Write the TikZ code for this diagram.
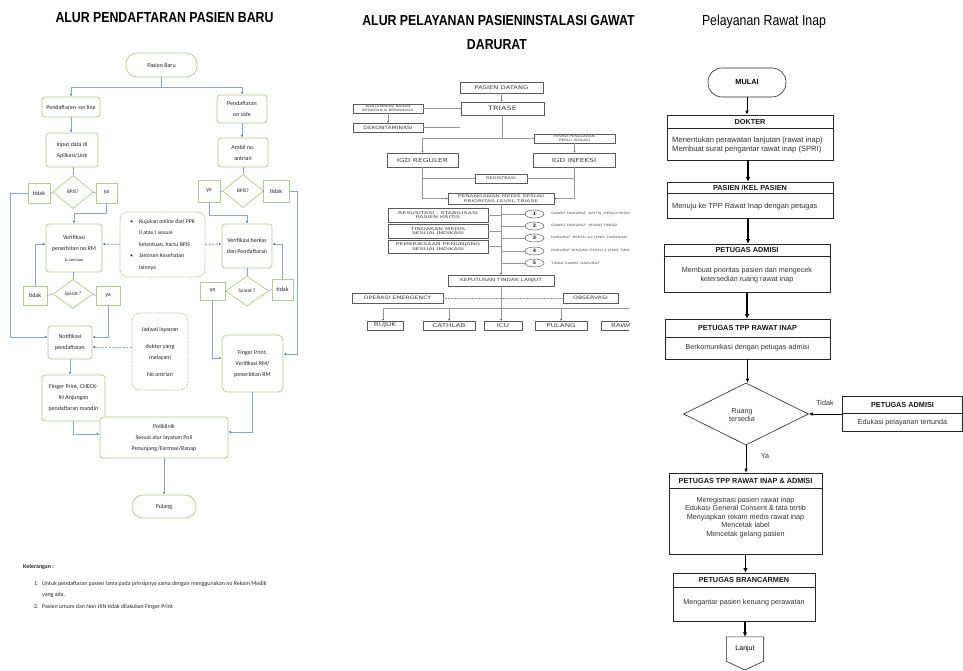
\documentclass[tikz,border=0pt]{standalone}
\usepackage{fontspec}
\setmainfont{Liberation Sans}
\newfontfamily\lfont{Carlito}
\newfontfamily\mfont[FakeStretch=1.35]{DejaVu Sans}
\newfontfamily\mfontw[FakeStretch=1.65]{DejaVu Sans}
\newfontfamily\ttlfont[FakeStretch=0.85]{Liberation Sans}
\usetikzlibrary{shapes.geometric,arrows.meta,calc}
\definecolor{lgreen}{RGB}{175,205,140}
\definecolor{lline}{RGB}{140,165,205}
\definecolor{lhead}{RGB}{70,110,190}
\definecolor{mline}{RGB}{150,150,150}
\definecolor{mbox}{RGB}{90,90,90}
\tikzset{
 lb/.style={draw=lgreen, line width=0.7pt, rounded corners=3pt, fill=white, align=center, inner sep=0.5pt, text=black!85, font=\lfont\fontsize{6}{11}\selectfont},
 lsq/.style={lb, rounded corners=0pt},
 lpill/.style={lb, rounded corners=11pt},
 ldash/.style={lb, dashed, dash pattern=on 1.5pt off 1pt, rounded corners=8pt},
 ldia/.style={draw=lgreen, line width=0.7pt, diamond, fill=white, inner sep=0pt, text=black!85, font=\lfont\fontsize{5.3}{6}\selectfont},
 ll/.style={draw=lline, line width=0.6pt},
 la/.style={ll, -{Latex[length=2.5pt,width=2pt,color=lhead]}},
 lda/.style={la, dashed, dash pattern=on 2pt off 1.5pt},
 mb/.style={draw=mbox, line width=0.45pt, fill=white, align=center, inner sep=0pt, text=black!75, font=\mfontw\fontsize{3.8}{4.7}\selectfont},
 ml/.style={draw=mline, line width=0.5pt},
 ma/.style={ml, -{Stealth[length=2pt,width=1.8pt,color=black!70]}},
 rb/.style={draw=black!85, line width=0.6pt, fill=white, inner sep=0pt},
 rl/.style={draw=black!85, line width=0.6pt},
 rh/.style={font=\bfseries\fontsize{7.3}{8.5}\selectfont, inner sep=0pt, text=black!90},
 rt/.style={font=\fontsize{7.2}{8.5}\selectfont, inner sep=0pt, align=center, text=black!80},
 ra/.style={draw=black, line width=0.6pt, -{Latex[length=4pt,width=3.5pt]}},
 rA/.style={draw=black, line width=1.4pt, -{Latex[length=4.5pt,width=4.5pt]}},
}
\begin{document}
\begin{tikzpicture}[x=1pt,y=-1pt]
\fill[white] (0,0) rectangle (963,671);
\useasboundingbox (0,0) rectangle (963,671);

% ================= titles
\node[font=\ttlfont\bfseries\fontsize{14.5}{16}\selectfont, inner sep=0] (ttl1) at (164.5,18) {ALUR PENDAFTARAN PASIEN BARU};
\node[font=\ttlfont\bfseries\fontsize{14.5}{16}\selectfont, inner sep=0] (ttl2) at (498.5,21) {ALUR PELAYANAN PASIENINSTALASI GAWAT};
\node[font=\ttlfont\bfseries\fontsize{14.5}{16}\selectfont, inner sep=0] (ttl2b) at (497,45) {DARURAT};
\node[font=\ttlfont\fontsize{14.5}{16}\selectfont, inner sep=0] (ttl3) at (764,22) {Pelayanan Rawat Inap};

% ================= left panel
\node[lpill, minimum width=71pt, minimum height=24pt] (pb) at (161.5,65) {Pasien Baru};
\node[lb, minimum width=58pt, minimum height=20pt] (pon) at (71,107) {Pendaftaran -on line};
\node[lb, minimum width=50pt, minimum height=28pt] (pos) at (242,109) {Pendaftaran\\on side};
\node[lb, minimum width=52pt, minimum height=34pt] (inp) at (72,150) {Input data di\\Aplikasi/Link};
\node[lb, minimum width=50pt, minimum height=29pt] (amb) at (243,152.5) {Ambil no.\\antrian};
\node[ldia, minimum width=40pt, minimum height=33pt] (d1) at (73,192) {BPJS?};
\node[lsq, minimum width=22pt, minimum height=20pt] (t1) at (39,193) {tidak};
\node[lsq, minimum width=21pt, minimum height=20pt] (y1) at (106.5,193) {ya};
\node[ldia, minimum width=41pt, minimum height=33pt] (d2) at (243,191) {BPJS?};
\node[lsq, minimum width=22pt, minimum height=22pt] (y2) at (209,191) {ya};
\node[lsq, minimum width=26pt, minimum height=22pt] (t2) at (276,191) {tidak};
\node[lb, minimum width=56pt, minimum height=48pt] (ver1) at (74,248) {Verifikasi\\penerbitan no RM\\{\fontsize{4.3}{5}\selectfont\& Jaminan}};
\node[ldash, minimum width=85pt, minimum height=65pt, align=left, font=\lfont\fontsize{5.8}{11.5}\selectfont] (bul) at (162.5,244.5)
 {\makebox[9pt][l]{\textbullet}Rujukan online dari PPK\\\makebox[9pt]{}II atau I sesuai\\\makebox[9pt]{}ketentuan, Kartu BPJS\\\makebox[9pt][l]{\textbullet}Jaminan Kesehatan\\\makebox[9pt]{}lainnya};
\node[lb, minimum width=50pt, minimum height=44pt] (ver2) at (247,246) {Verifikasi berkas\\dan Pendaftaran};
\node[ldia, minimum width=40pt, minimum height=29pt] (d3) at (73,294) {Syarat ?};
\node[lsq, minimum width=24pt, minimum height=19pt] (t3) at (35,295.5) {tidak};
\node[lsq, minimum width=24pt, minimum height=19pt] (y3) at (108,295.5) {ya};
\node[ldia, minimum width=43pt, minimum height=30pt] (d4) at (247,291) {Syarat ?};
\node[lsq, minimum width=25pt, minimum height=18pt] (y4) at (212.5,291) {ya};
\node[lsq, minimum width=21pt, minimum height=21pt] (t4) at (282.5,289.5) {tidak};
\node[lb, minimum width=44pt, minimum height=33pt] (notif) at (70,342.5) {Notifikasi\\pendaftaran};
\node[ldash, minimum width=56pt, minimum height=77pt, font=\lfont\fontsize{6}{11}\selectfont] (jad) at (160,351.5) {Jadwal layanan\\[6pt]dokter yang\\melayani\\[6pt]No antrian};
\node[lb, minimum width=61pt, minimum height=57pt, rounded corners=5pt] (fp2) at (252.5,363.5) {Finger Print,\\Verifikasi RM/\\penerbitan RM};
\node[lb, minimum width=63pt, minimum height=46pt] (fp1) at (73.5,398) {Finger Print, CHECK-\\IN Anjungan\\pendaftaran mandiri};
\node[lb, minimum width=128pt, minimum height=41pt] (poli) at (164,437.5) {Poliklinik\\Sesuai alur layanan Poli\\Penunjang/Farmasi/Ranap};
\node[lpill, minimum width=64pt, minimum height=23pt] (pul) at (164,506.5) {Pulang};

\node[anchor=base west, inner sep=0, text=black!85, font=\lfont\bfseries\fontsize{5.9}{7}\selectfont] (ket) at (23,568) {Keterangan :};
\node[anchor=base west, inner sep=0, text=black!85, font=\lfont\fontsize{5.9}{7}\selectfont] (n1) at (34,585) {1.};
\node[anchor=base west, inner sep=0, text=black!85, font=\lfont\fontsize{5.9}{7}\selectfont] (n1t) at (42,585) {Untuk pendaftaran pasien lama pada prinsipnya sama dengan menggunakan no Rekam Medik};
\node[anchor=base west, inner sep=0, text=black!85, font=\lfont\fontsize{5.9}{7}\selectfont] (n1u) at (42,596) {yang ada.};
\node[anchor=base west, inner sep=0, text=black!85, font=\lfont\fontsize{5.9}{7}\selectfont] (n2) at (34,608) {2.};
\node[anchor=base west, inner sep=0, text=black!85, font=\lfont\fontsize{5.9}{7}\selectfont] (n2t) at (42,608) {Pasien umum dan Non JKN tidak dilakukan Finger Print};

\coordinate (j0) at (161.5,87);
\draw[ll] (pb.south) -- (j0);
\draw[la] (j0) -| (pon.north);
\draw[la] (j0) -| (pos.north);
\draw[la] (pon.south) -- (pon.south |- inp.north);
\draw[la] (pos.south) -- (pos.south |- amb.north);
\draw[ll] (d1.north |- inp.south) -- (d1.north);
\draw[ll] (amb.south) -- (d2.north);
\draw[ll] (d1.west) -- (t1.east);
\draw[ll] (d1.east) -- (y1.west);
\draw[ll] (d2.west) -- (y2.east);
\draw[ll] (d2.east) -- (t2.west);
\draw[la] (t1.west) -- (10,193) -- (10,337) -- (notif.west |- 0,337);
\draw[la] (y1.south) -- (106.5,213) -| (ver1.north);
\draw[la] (y2.south) -- (209,215) -| (ver2.north);
\draw[lda] (bul.west |- 0,244) -- (ver1.east |- 0,244);
\draw[lda] (bul.east |- 0,244) -- (ver2.west |- 0,244);
\draw[ll] (d3.north |- ver1.south) -- (d3.north);
\draw[ll] (ver2.south) -- (d4.north);
\draw[ll] (d3.west) -- (t3.east);
\draw[ll] (d3.east) -- (y3.west);
\draw[ll] (d4.west) -- (y4.east);
\draw[ll] (d4.east) -- (t4.west);
\draw[la] (t3.north) |- (ver1.west |- 0,244);
\draw[la] (t4.north) |- (ver2.east |- 0,244);
\draw[la] (y3.south) |- (notif.east |- 0,337);
\draw[lda] (jad.west |- 0,347) -- (notif.east |- 0,347);
\draw[la] (t2.east) -- (297,191) -- (297,354) -- (fp2.east |- 0,354);
\draw[la] (y4.south) |- (fp2.west |- 0,358);
\draw[la] (notif.south) -- (notif.south |- fp1.north);
\draw[la] (fp1.south) |- (poli.west |- 0,434);
\draw[la] (fp2.south) |- (poli.east |- 0,432);
\draw[la] (poli.south) -- (pul.north);

% ================= middle panel
\begin{scope}
\clip (335,55) rectangle (629,345);
\node[mb, minimum width=83pt, minimum height=11pt, font=\mfont\fontsize{5}{6}\selectfont] (pd) at (501.5,87.5) {PASIEN DATANG};
\node[mb, minimum width=83pt, minimum height=13pt, line width=0.7pt, font=\mfont\fontsize{6}{7}\selectfont] (tri) at (502.5,108.5) {TRIASE};
\node[mb, minimum width=70pt, minimum height=9pt, font=\mfont\fontsize{3.1}{3.6}\selectfont] (kon) at (388,108.5) {KONTAMINASI BAHAN\\BERACUN \& BERBAHAYA};
\node[mb, minimum width=70pt, minimum height=9pt, font=\mfont\fontsize{4.4}{5}\selectfont] (dek) at (388,127.5) {DEKONTAMINASI};
\node[mb, minimum width=81pt, minimum height=9pt, font=\mfont\fontsize{3.1}{3.6}\selectfont] (ris) at (574.5,138.5) {RISIKO PENULARAN\\PERLU ISOLASI};
\node[mb, minimum width=71pt, minimum height=14pt, line width=0.7pt, font=\mfont\fontsize{5.5}{6}\selectfont] (igr) at (422.5,160) {IGD REGULER};
\node[mb, minimum width=82pt, minimum height=14pt, line width=0.7pt, font=\mfont\fontsize{5.5}{6}\selectfont] (igi) at (574,160) {IGD INFEKSI};
\node[mb, minimum width=52pt, minimum height=9pt, font=\mfont\fontsize{3.7}{4.5}\selectfont] (reg) at (501,178.5) {REGISTRASI};
\node[mb, minimum width=106pt, minimum height=11pt, font=\mfontw\fontsize{3.6}{4.4}\selectfont] (pen) at (501,198.5) {PENANGANAN MEDIS SESUAI\\PRIORITAS LEVEL TRIASE};
\node[mb, minimum width=100pt, minimum height=14pt] (res) at (438,215) {RESUSITASI - STABILISASI\\PASIEN KRITIS};
\node[mb, minimum width=100pt, minimum height=14pt] (tin) at (438,231) {TINDAKAN MEDIS\\SESUAI INDIKASI};
\node[mb, minimum width=100pt, minimum height=13pt] (pem) at (438,246.5) {PEMERIKSAAN PENUNJANG\\SESUAI INDIKASI};
\foreach \i/\yy in {1/214,2/226,3/238,4/251,5/263}
  \node[ellipse, draw=mbox, line width=0.5pt, minimum width=19pt, minimum height=8pt, inner sep=0pt, fill=white, font=\bfseries\fontsize{5}{5}\selectfont] (c\i) at (534.5,\yy) {\i};
\node[anchor=west, inner sep=0, text=black!70, font=\mfont\fontsize{3}{3}\selectfont] (l1) at (551,214) {GAWAT DARURAT, KRITIS, PERLU RESUSITASI};
\node[anchor=west, inner sep=0, text=black!70, font=\mfont\fontsize{3}{3}\selectfont] (l2) at (551,226) {GAWAT DARURAT, RISIKO TINGGI};
\node[anchor=west, inner sep=0, text=black!70, font=\mfont\fontsize{3}{3}\selectfont] (l3) at (551,238) {DARURAT, PERLU ≥2 JENIS TINDAKAN};
\node[anchor=west, inner sep=0, text=black!70, font=\mfont\fontsize{3}{3}\selectfont] (l4) at (551,251) {DARURAT RINGAN, PERLU 1 JENIS TINDAKAN};
\node[anchor=west, inner sep=0, text=black!70, font=\mfont\fontsize{3}{3}\selectfont] (l5) at (551,263) {TIDAK GAWAT DARURAT};
\node[mb, minimum width=106pt, minimum height=11pt, font=\mfont\fontsize{4.3}{5}\selectfont] (kep) at (501,280.5) {KEPUTUSAN TINDAK LANJUT};
\node[mb, minimum width=91pt, minimum height=10pt, font=\mfont\fontsize{4.6}{5}\selectfont] (op) at (397.5,298) {OPERASI EMERGENCY};
\node[mb, minimum width=55pt, minimum height=10pt, font=\mfont\fontsize{4.6}{5}\selectfont] (obs) at (590.5,298) {OBSERVASI};
\node[mb, minimum width=36pt, minimum height=9pt, font=\mfont\fontsize{5.3}{6}\selectfont] (ruj) at (385,325.5) {RUJUK};
\node[mb, minimum width=52pt, minimum height=9pt, font=\mfont\fontsize{5.3}{6}\selectfont] (cat) at (449,325.5) {CATHLAB};
\node[mb, minimum width=38pt, minimum height=9pt, font=\mfont\fontsize{5.3}{6}\selectfont] (icu) at (503,325.5) {ICU};
\node[mb, minimum width=52pt, minimum height=9pt, font=\mfont\fontsize{5.3}{6}\selectfont] (pulg) at (561,325.5) {PULANG};
\node[mb, minimum width=64pt, minimum height=9pt, font=\mfont\fontsize{5.3}{6}\selectfont] (raw) at (633,325.5) {RAWAT INAP};

\draw[ma] (pd.south) -- (pd.south |- tri.north);
\draw[ml] (tri.west) -- (kon.east);
\draw[ma] (kon.south) -- (dek.north);
\coordinate (dke) at (460,127.5);
\draw[ml] (dek.east) -- (dke);
\coordinate (tj) at (502.5,138.5);
\draw[ml] (tri.south) -- (tj);
\draw[ml] (tj) -- (ris.west);
\draw[ma] (tj) -| (igr.north);
\draw[ma] (ris.south) -- (ris.south |- igi.north);
\draw[ma] (igr.south) |- (pen.west);
\draw[ml] (igr.south |- reg.west) -- (reg.west);
\draw[ma] (igi.south) |- (pen.east);
\draw[ml] (reg.east) -- (igi.south |- reg.east);
\draw[ma] (pen.south) -- (kep.north);
\draw[ml] (res.east) -- (pen.south |- res.east);
\draw[ml] (tin.east) -- (pen.south |- tin.east);
\draw[ml] (pem.east) -- (pen.south |- pem.east);
\foreach \i in {1,...,5} \draw[ml] (pen.south |- c\i.west) -- (c\i.west);
\draw[ml, densely dotted] (op.east) -- (obs.west);
\draw[ma] (kep.south) -- (kep.south |- icu.north);
\coordinate (bl) at (383,308);
\coordinate (br) at (640,308);
\draw[ml] (bl) -- (br);
\draw[ma] (bl) -- (bl |- ruj.north);
\draw[ma] (cat.north |- bl) -- (cat.north);
\draw[ma] (pulg.north |- bl) -- (pulg.north);
\end{scope}

% ================= right panel
\node[rb, rounded corners=14pt, minimum width=78pt, minimum height=29pt, font=\bfseries\fontsize{7.3}{8}\selectfont] (mul) at (747,82.5) {MULAI};

\node[rb, minimum width=166pt, minimum height=45pt] (dok) at (750,137.5) {};
\draw[rl] (dok.west |- 0,128) -- (dok.east |- 0,128);
\node[rh] (dokh) at (750,121.5) {DOKTER};
\node[rt, anchor=west, align=left, font=\fontsize{7.6}{8.5}\selectfont] (dokb) at (672,145) {Menentukan perawatan lanjutan (rawat inap)\\Membuat surat pengantar rawat inap (SPRI)};

\node[rb, minimum width=166pt, minimum height=36pt] (pas) at (750,200) {};
\draw[rl] (pas.west |- 0,193) -- (pas.east |- 0,193);
\node[rh] (pash) at (750,187.5) {PASIEN /KEL PASIEN};
\node[rt, anchor=west, font=\fontsize{7.4}{8.5}\selectfont] (pasb) at (672,207) {Menuju ke TPP Rawat Inap dengan petugas};

\node[rb, minimum width=166pt, minimum height=48pt] (adm) at (747,268) {};
\draw[rl] (adm.west |- 0,256) -- (adm.east |- 0,256);
\node[rh] (admh) at (747,250) {PETUGAS ADMISI};
\node[rt] (admb) at (747,275) {Membuat prioritas pasien dan mengecek\\ketersedian ruang rawat inap};

\node[rb, minimum width=165pt, minimum height=40pt] (tpp) at (747.5,339) {};
\draw[rl] (tpp.west |- 0,337) -- (tpp.east |- 0,337);
\node[rh] (tpph) at (747.5,328) {PETUGAS TPP RAWAT INAP};
\node[rt] (tppb) at (747.5,348) {Berkomunikasi dengan petugas admisi};

\node[draw=black!85, line width=0.6pt, diamond, minimum width=125pt, minimum height=62pt, inner sep=0pt] (dia) at (746,414) {};
\node[rt, font=\fontsize{7.2}{8.2}\selectfont] (diat) at (742,415) {Ruang\\tersedia};

\node[rb, minimum width=120pt, minimum height=35pt] (adm2) at (902.5,414) {};
\draw[rl] (adm2.west |- 0,413) -- (adm2.east |- 0,413);
\node[rh] (adm2h) at (902.5,405) {PETUGAS ADMISI};
\node[rt] (adm2b) at (902.5,423) {Edukasi pelayanan tertunda};
\node[rt] (tdk) at (825,403) {Tidak};

\node[rb, minimum width=153pt, minimum height=81pt] (tppa) at (745.5,513.5) {};
\draw[rl] (tppa.west |- 0,488) -- (tppa.east |- 0,488);
\node[rh] (tppah) at (745.5,480.5) {PETUGAS TPP RAWAT INAP \& ADMISI};
\node[rt] (tppab) at (745.5,517.5) {Meregistrasi pasien rawat inap\\Edukasi General Consent \& tata tertib\\Menyiapkan rekam medis rawat inap\\Mencetak label\\Mencetak gelang pasien};
\node[rt] (ya) at (765,456) {Ya};

\node[rb, minimum width=142pt, minimum height=48pt] (bran) at (744,597) {};
\draw[rl] (bran.west |- 0,587) -- (bran.east |- 0,587);
\node[rh] (branh) at (744,580) {PETUGAS BRANCARMEN};
\node[rt] (branb) at (744,603) {Mengantar pasien keruang perawatan};

\node[inner sep=0pt, minimum width=37pt, minimum height=24pt, font=\fontsize{7}{8}\selectfont] (lan) at (745,649) {Lanjut};
\draw[rl] (lan.north west) -- (lan.north east) -- (lan.south east) -- (lan.south |- 0,670) -- (lan.south west) -- cycle;

\draw[ra, line width=0.9pt] (mul.south) -- (mul.south |- dok.north);
\draw[rA] (dok.south -| 748,0) -- (pas.north -| 748,0);
\draw[rA] (pas.south -| 748,0) -- (adm.north -| 748,0);
\draw[rA] (adm.south) -- (adm.south |- tpp.north);
\draw[ra] (tpp.south) -- (tpp.south |- dia.north);
\draw[ra, line width=0.9pt] (dia.south) -- (dia.south |- tppa.north);
\draw[ra] (adm2.west) -- (dia.east);
\draw[rA] (tppa.south) -- (tppa.south |- bran.north);
\draw[rA] (bran.south -| lan.north) -- (lan.north);
\end{tikzpicture}
\end{document}
